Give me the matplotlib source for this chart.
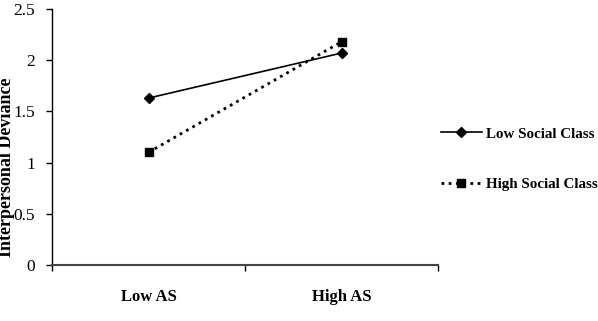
import matplotlib

matplotlib.use("Agg")
import matplotlib.pyplot as plt
from matplotlib.lines import Line2D

kategori = ["Low AS", "High AS"]
low_social_class = [1.63, 2.07]
high_social_class = [1.10, 2.18]
y_ticks = [0, 0.5, 1, 1.5, 2, 2.5]
y_tick_labels = ["0", "0.5", "1", "1.5", "2", "2.5"]

plt.rcParams["font.family"] = ["Liberation Serif", "DejaVu Serif"]

W, H = 598, 321
fig = plt.figure(figsize=(W / 100, H / 100), dpi=100)
ax = fig.add_axes([52 / W, (H - 265) / H, (438 - 52) / W, (265 - 9) / H])

x = range(len(kategori))
ax.plot(x, low_social_class, color="black", linewidth=1.2,
        marker="D", markersize=5.5, label="Low Social Class")
ax.plot(x, high_social_class, color="black", linewidth=2.0, linestyle=(0, (1, 1.6)),
        marker="s", markersize=5.5, label="High Social Class")

ax.set_xlim(-0.5, 1.5)
ax.set_ylim(0, 2.5)
ax.set_yticks(y_ticks, y_tick_labels, fontsize=12.5)
ax.set_xticks(list(x), kategori, fontsize=12, fontweight="bold")
ax.set_xticks([-0.5, 0.5, 1.5], minor=True)
ax.tick_params(axis="x", which="major", length=0, pad=17)
ax.tick_params(axis="x", which="minor", length=4, direction="out", width=1)
ax.tick_params(axis="y", length=4, direction="out", width=1, pad=8)

for side in ["top", "right"]:
    ax.spines[side].set_visible(False)
ax.spines["left"].set_linewidth(1)
ax.spines["bottom"].set_linewidth(1.5)
ax.spines["bottom"].set_color("#444444")

ax.set_ylabel("Interpersonal Deviance", fontsize=13, fontweight="bold")
ax.yaxis.label.set_va("center")
ax.yaxis.set_label_coords(-45 / 386, (265 - 167) / 256)

# legend on the right, entries spaced widely
handles = [
    Line2D([], [], color="black", linewidth=1.2, marker="D", markersize=5.5),
    Line2D([], [], color="black", linewidth=2.0, linestyle=(0, (1, 1.6)),
           marker="s", markersize=5.5),
]
fig.legend(handles, ["Low Social Class", "High Social Class"],
           loc="upper left", bbox_to_anchor=(441 / W, (H - 127) / H),
           frameon=False, handlelength=2.7, handletextpad=0.3,
           labelspacing=2.45, borderaxespad=0, borderpad=0,
           prop={"family": "Liberation Serif", "weight": "bold", "size": 10.8})

fig.savefig("out.png", dpi=100)
